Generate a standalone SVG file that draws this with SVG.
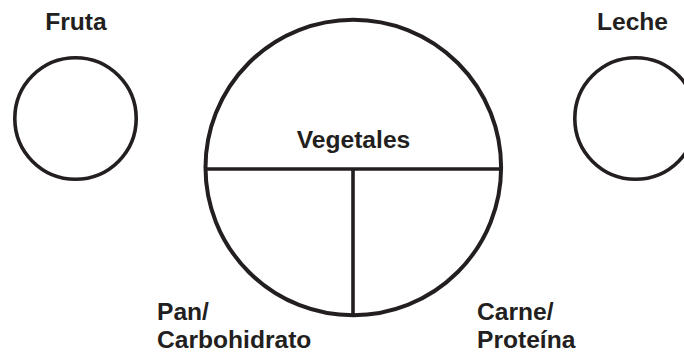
<svg xmlns="http://www.w3.org/2000/svg" width="684" height="354" viewBox="0 0 684 354">
<style>
.c{fill:none;stroke:#231f20;stroke-width:3.6}
.l{fill:none;stroke:#231f20;stroke-width:3.6}
.t{font-family:"Liberation Sans",Arial,Helvetica,sans-serif;font-weight:bold;font-size:24.6px;fill:#231f20}
</style>
<rect width="684" height="354" fill="#fff"/>
<g id="fruta">
<circle class="c" cx="75.5" cy="118.5" r="60.7"/>
<text class="t" x="76" y="30" text-anchor="middle">Fruta</text>
</g>
<g id="leche">
<circle class="c" cx="635.5" cy="118.5" r="60.7"/>
<text class="t" x="632.5" y="30" text-anchor="middle">Leche</text>
</g>
<g id="plato">
<circle class="c" cx="353.3" cy="167.5" r="147.8" style="stroke-width:4"/>
</g>
<g id="connectors">
<line class="l" x1="205" y1="169" x2="502" y2="169"/>
<line class="l" x1="353" y1="169" x2="353" y2="316"/>
</g>
<g id="vegetales">
<text class="t" x="353.5" y="148" text-anchor="middle">Vegetales</text>
</g>
<g id="pan">
<text class="t" x="157" y="320">Pan/</text>
<text class="t" x="157" y="348">Carbohidrato</text>
</g>
<g id="carne">
<text class="t" x="477" y="320">Carne/</text>
<text class="t" x="477" y="348">Proteína</text>
</g>
</svg>
